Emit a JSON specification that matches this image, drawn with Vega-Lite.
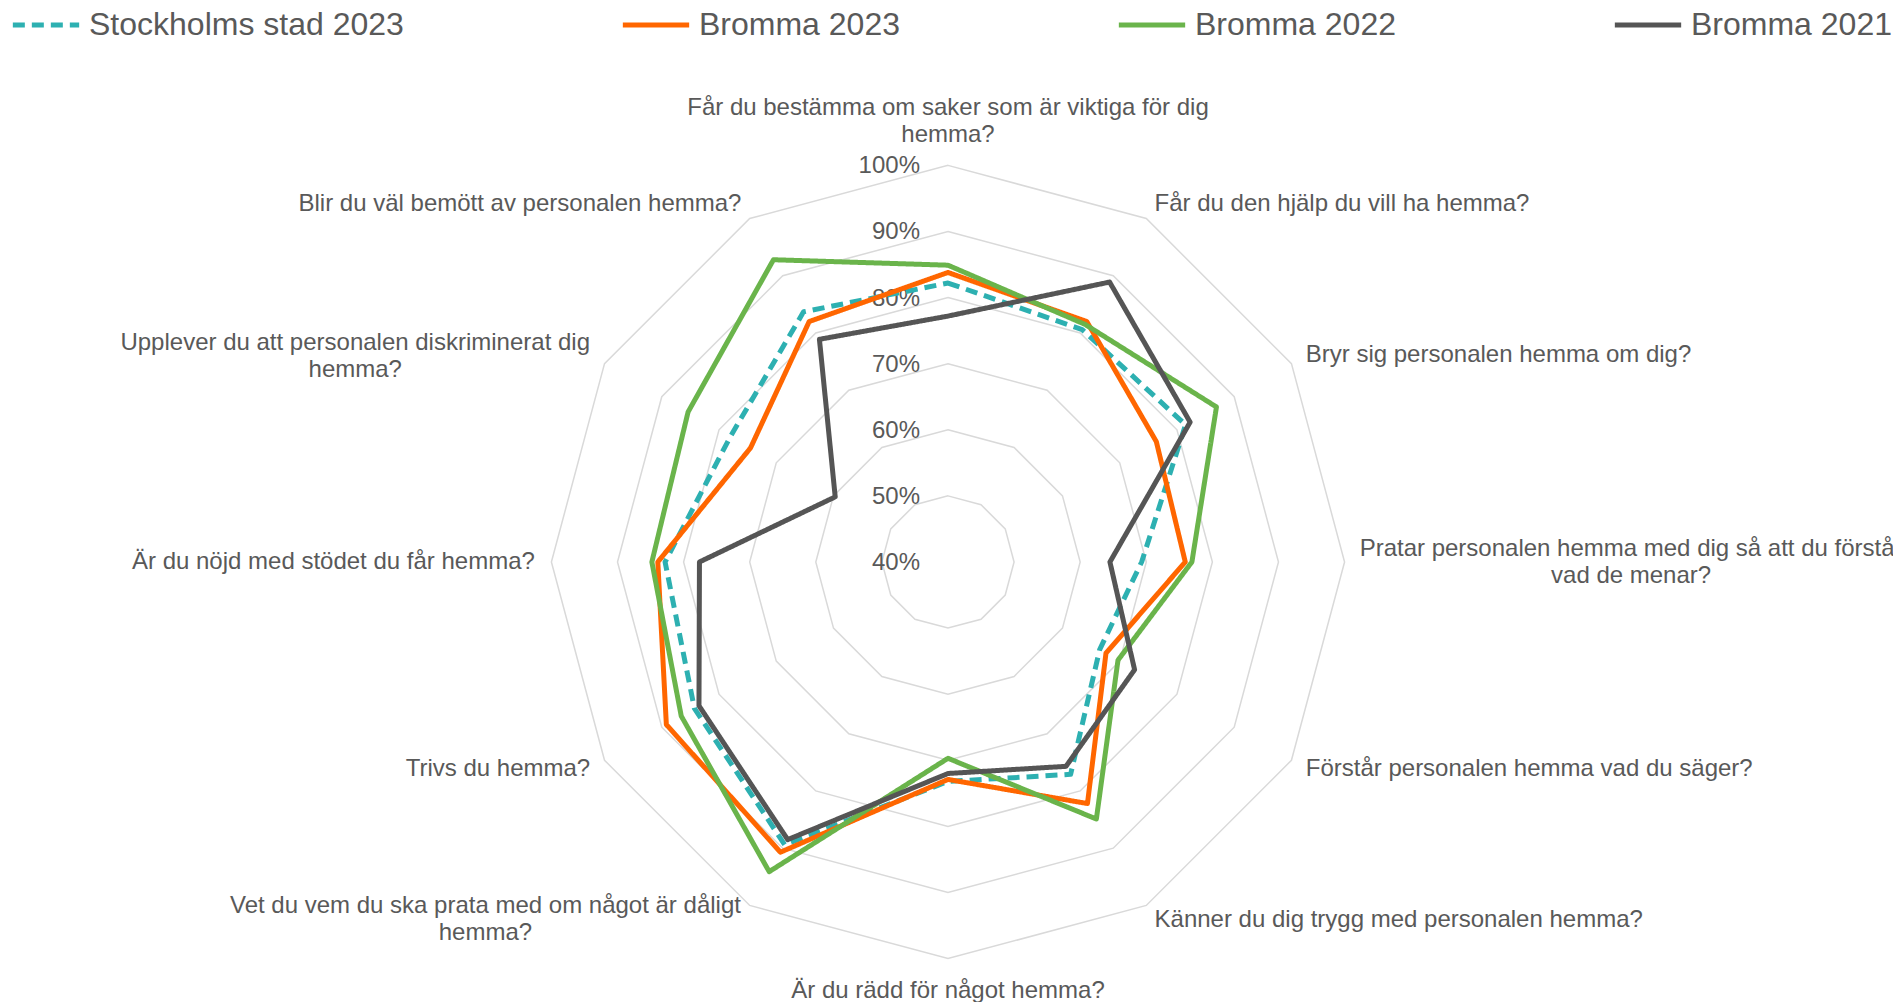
{
  "$schema": "https://vega.github.io/schema/vega-lite/v6.json",
  "width": 1893,
  "height": 1002,
  "padding": 0,
  "autosize": {"type": "none"},
  "background": "white",
  "config": {"view": {"stroke": null}},
  "datasets": {
    "questions": [
      {"k": 0, "label": "Får du bestämma om saker som är viktiga för dig\nhemma?"},
      {"k": 1, "label": "Får du den hjälp du vill ha hemma?"},
      {"k": 2, "label": "Bryr sig personalen hemma om dig?"},
      {"k": 3, "label": "Pratar personalen hemma med dig så att du förstår\nvad de menar?"},
      {"k": 4, "label": "Förstår personalen hemma vad du säger?"},
      {"k": 5, "label": "Känner du dig trygg med personalen hemma?"},
      {"k": 6, "label": "Är du rädd för något hemma?"},
      {"k": 7, "label": "Vet du vem du ska prata med om något är dåligt\nhemma?"},
      {"k": 8, "label": "Trivs du hemma?"},
      {"k": 9, "label": "Är du nöjd med stödet du får hemma?"},
      {"k": 10, "label": "Upplever du att personalen diskriminerat dig\nhemma?"},
      {"k": 11, "label": "Blir du väl bemött av personalen hemma?"}
    ],
    "levels": [
      {"level": 40}, {"level": 50}, {"level": 60}, {"level": 70}, {"level": 80}, {"level": 90}, {"level": 100}
    ],
    "scores": [
      {"series": "Stockholms stad 2023", "k": 0, "value": 82.2},
      {"series": "Stockholms stad 2023", "k": 1, "value": 80.6},
      {"series": "Stockholms stad 2023", "k": 2, "value": 81.5},
      {"series": "Stockholms stad 2023", "k": 3, "value": 69.3},
      {"series": "Stockholms stad 2023", "k": 4, "value": 66.5},
      {"series": "Stockholms stad 2023", "k": 5, "value": 77.1},
      {"series": "Stockholms stad 2023", "k": 6, "value": 73.2},
      {"series": "Stockholms stad 2023", "k": 7, "value": 89.4},
      {"series": "Stockholms stad 2023", "k": 8, "value": 84.3},
      {"series": "Stockholms stad 2023", "k": 9, "value": 82.8},
      {"series": "Stockholms stad 2023", "k": 10, "value": 78.0},
      {"series": "Stockholms stad 2023", "k": 11, "value": 83.7},
      {"series": "Bromma 2023", "k": 0, "value": 83.8},
      {"series": "Bromma 2023", "k": 1, "value": 82.0},
      {"series": "Bromma 2023", "k": 2, "value": 76.4},
      {"series": "Bromma 2023", "k": 3, "value": 75.9},
      {"series": "Bromma 2023", "k": 4, "value": 67.6},
      {"series": "Bromma 2023", "k": 5, "value": 82.2},
      {"series": "Bromma 2023", "k": 6, "value": 72.9},
      {"series": "Bromma 2023", "k": 7, "value": 90.7},
      {"series": "Bromma 2023", "k": 8, "value": 89.2},
      {"series": "Bromma 2023", "k": 9, "value": 83.9},
      {"series": "Bromma 2023", "k": 10, "value": 74.5},
      {"series": "Bromma 2023", "k": 11, "value": 82.0},
      {"series": "Bromma 2022", "k": 0, "value": 84.9},
      {"series": "Bromma 2022", "k": 1, "value": 81.5},
      {"series": "Bromma 2022", "k": 2, "value": 86.9},
      {"series": "Bromma 2022", "k": 3, "value": 76.9},
      {"series": "Bromma 2022", "k": 4, "value": 69.7},
      {"series": "Bromma 2022", "k": 5, "value": 84.9},
      {"series": "Bromma 2022", "k": 6, "value": 69.7},
      {"series": "Bromma 2022", "k": 7, "value": 94.1},
      {"series": "Bromma 2022", "k": 8, "value": 86.6},
      {"series": "Bromma 2022", "k": 9, "value": 84.8},
      {"series": "Bromma 2022", "k": 10, "value": 85.4},
      {"series": "Bromma 2022", "k": 11, "value": 92.8},
      {"series": "Bromma 2021", "k": 0, "value": 77.2},
      {"series": "Bromma 2021", "k": 1, "value": 88.9},
      {"series": "Bromma 2021", "k": 2, "value": 82.3},
      {"series": "Bromma 2021", "k": 3, "value": 64.5},
      {"series": "Bromma 2021", "k": 4, "value": 72.6},
      {"series": "Bromma 2021", "k": 5, "value": 75.7},
      {"series": "Bromma 2021", "k": 6, "value": 72.0},
      {"series": "Bromma 2021", "k": 7, "value": 88.5},
      {"series": "Bromma 2021", "k": 8, "value": 83.5},
      {"series": "Bromma 2021", "k": 9, "value": 77.6},
      {"series": "Bromma 2021", "k": 10, "value": 59.7},
      {"series": "Bromma 2021", "k": 11, "value": 78.9}
    ]
  },
  "encoding": {
    "x": {"field": "px", "type": "quantitative", "scale": {"domain": [-143.42, 142.97], "nice": false, "zero": false}, "axis": null},
    "y": {"field": "py", "type": "quantitative", "scale": {"domain": [-66.57, 85.02], "nice": false, "zero": false}, "axis": null}
  },
  "layer": [
    {
      "data": {"name": "questions"},
      "transform": [
        {"calculate": "[10, 20, 30, 40, 50, 60]", "as": "ring"},
        {"flatten": ["ring"]},
        {"calculate": "datum.ring * sin(datum.k * PI / 6)", "as": "px"},
        {"calculate": "datum.ring * cos(datum.k * PI / 6)", "as": "py"}
      ],
      "mark": {"type": "line", "interpolate": "linear-closed", "stroke": "#d9d9d9", "strokeWidth": 1.5},
      "encoding": {
        "detail": {"field": "ring", "type": "nominal"},
        "order": {"field": "k", "type": "quantitative"}
      }
    },
    {
      "data": {"name": "levels"},
      "transform": [
        {"calculate": "0", "as": "px"},
        {"calculate": "datum.level - 40", "as": "py"},
        {"calculate": "datum.level + '%'", "as": "txt"}
      ],
      "mark": {"type": "text", "align": "right", "baseline": "middle", "dx": -28, "dy": 1, "font": "Liberation Sans", "fontSize": 24, "color": "#595959"},
      "encoding": {"text": {"field": "txt", "type": "nominal"}}
    },
    {
      "data": {"name": "scores"},
      "transform": [
        {"calculate": "datum.value - 40", "as": "r"},
        {"calculate": "datum.r * sin(datum.k * PI / 6)", "as": "px"},
        {"calculate": "datum.r * cos(datum.k * PI / 6)", "as": "py"}
      ],
      "mark": {"type": "line", "interpolate": "linear-closed", "strokeWidth": 5, "strokeJoin": "round"},
      "encoding": {
        "order": {"field": "k", "type": "quantitative"},
        "color": {
          "field": "series", "type": "nominal",
          "scale": {"domain": ["Stockholms stad 2023", "Bromma 2023", "Bromma 2022", "Bromma 2021"], "range": ["#2DB0B1", "#FF6600", "#6AB44B", "#555555"]},
          "legend": {"orient": "none", "legendX": 10, "legendY": -11, "direction": "horizontal", "title": null, "labelFontSize": 32, "labelFont": "Liberation Sans", "labelColor": "#595959", "symbolType": "stroke", "symbolSize": 4400, "symbolStrokeWidth": 5, "columnPadding": 208, "labelOffset": 7, "labelLimit": 0}
        },
        "strokeDash": {
          "field": "series", "type": "nominal",
          "scale": {"domain": ["Stockholms stad 2023", "Bromma 2023", "Bromma 2022", "Bromma 2021"], "range": [[12, 7], [1, 0], [1, 0], [1, 0]]},
          "legend": {"orient": "none", "legendX": 10, "legendY": -11, "direction": "horizontal", "title": null, "labelFontSize": 32, "labelFont": "Liberation Sans", "labelColor": "#595959", "symbolType": "stroke", "symbolSize": 4400, "symbolStrokeWidth": 5, "columnPadding": 208, "labelOffset": 7, "labelLimit": 0}
        }
      }
    },
    {
      "data": {"name": "questions"},
      "transform": [
        {"filter": "indexof([1, 2, 4, 5], datum.k) >= 0"},
        {"calculate": "62.5 * sin(datum.k * PI / 6)", "as": "px"},
        {"calculate": "62.5 * cos(datum.k * PI / 6)", "as": "py"}
      ],
      "mark": {"type": "text", "align": "left", "baseline": "middle", "font": "Liberation Sans", "fontSize": 24, "color": "#595959", "lineBreak": "\n", "lineHeight": 27},
      "encoding": {"text": {"field": "label", "type": "nominal"}}
    },
    {
      "data": {"name": "questions"},
      "transform": [
        {"filter": "indexof([8, 9, 11], datum.k) >= 0"},
        {"calculate": "62.5 * sin(datum.k * PI / 6)", "as": "px"},
        {"calculate": "62.5 * cos(datum.k * PI / 6)", "as": "py"}
      ],
      "mark": {"type": "text", "align": "right", "baseline": "middle", "font": "Liberation Sans", "fontSize": 24, "color": "#595959", "lineBreak": "\n", "lineHeight": 27},
      "encoding": {"text": {"field": "label", "type": "nominal"}}
    },
    {
      "data": {"name": "questions"},
      "transform": [
        {"filter": "datum.k == 0"},
        {"calculate": "62.5 * sin(datum.k * PI / 6)", "as": "px"},
        {"calculate": "62.5 * cos(datum.k * PI / 6)", "as": "py"}
      ],
      "mark": {"type": "text", "align": "center", "baseline": "bottom", "dy": -29, "font": "Liberation Sans", "fontSize": 24, "color": "#595959", "lineBreak": "\n", "lineHeight": 27},
      "encoding": {"text": {"field": "label", "type": "nominal"}}
    },
    {
      "data": {"name": "questions"},
      "transform": [
        {"filter": "datum.k == 6"},
        {"calculate": "62.5 * sin(datum.k * PI / 6)", "as": "px"},
        {"calculate": "62.5 * cos(datum.k * PI / 6)", "as": "py"}
      ],
      "mark": {"type": "text", "align": "center", "baseline": "top", "dy": 4, "font": "Liberation Sans", "fontSize": 24, "color": "#595959", "lineBreak": "\n", "lineHeight": 27},
      "encoding": {"text": {"field": "label", "type": "nominal"}}
    },
    {
      "data": {"name": "questions"},
      "transform": [
        {"filter": "datum.k == 3"},
        {"calculate": "62.5 * sin(datum.k * PI / 6)", "as": "px"},
        {"calculate": "62.5 * cos(datum.k * PI / 6)", "as": "py"}
      ],
      "mark": {"type": "text", "align": "center", "baseline": "middle", "dx": 270, "dy": -13, "font": "Liberation Sans", "fontSize": 24, "color": "#595959", "lineBreak": "\n", "lineHeight": 27},
      "encoding": {"text": {"field": "label", "type": "nominal"}}
    },
    {
      "data": {"name": "questions"},
      "transform": [
        {"filter": "datum.k == 7"},
        {"calculate": "62.5 * sin(datum.k * PI / 6)", "as": "px"},
        {"calculate": "62.5 * cos(datum.k * PI / 6)", "as": "py"}
      ],
      "mark": {"type": "text", "align": "center", "baseline": "middle", "dx": -256, "dy": -14, "font": "Liberation Sans", "fontSize": 24, "color": "#595959", "lineBreak": "\n", "lineHeight": 27},
      "encoding": {"text": {"field": "label", "type": "nominal"}}
    },
    {
      "data": {"name": "questions"},
      "transform": [
        {"filter": "datum.k == 10"},
        {"calculate": "62.5 * sin(datum.k * PI / 6)", "as": "px"},
        {"calculate": "62.5 * cos(datum.k * PI / 6)", "as": "py"}
      ],
      "mark": {"type": "text", "align": "center", "baseline": "middle", "dx": -235, "dy": -12, "font": "Liberation Sans", "fontSize": 24, "color": "#595959", "lineBreak": "\n", "lineHeight": 27},
      "encoding": {"text": {"field": "label", "type": "nominal"}}
    }
  ]
}
